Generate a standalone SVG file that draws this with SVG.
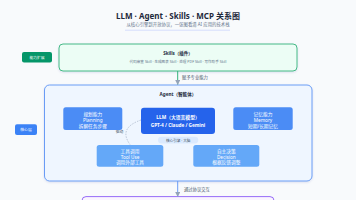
<svg xmlns="http://www.w3.org/2000/svg" width="356" height="200" viewBox="0 0 356 200">
<defs>
<style>
text{font-family:"Noto Sans","Noto Sans CJK SC",sans-serif;}
.c{text-anchor:middle;}
.w{fill:#ffffff;}
.b{font-weight:bold;}
.sub{fill:#64748b;}
.lbl{fill:#475569;font-size:4.3px;}
.node{font-size:4.7px;}
</style>
<marker id="ah" viewBox="0 0 10 10" refX="9" refY="5" markerWidth="5" markerHeight="5" orient="auto" markerUnits="userSpaceOnUse">
<path d="M0,0 L10,5 L0,10 z" fill="#94a3b8"/>
</marker>
<filter id="sh" x="-10%" y="-10%" width="120%" height="130%">
<feDropShadow dx="0" dy="1" stdDeviation="1.2" flood-color="#1e3a8a" flood-opacity="0.12"/>
</filter>
</defs>
<rect width="356" height="200" fill="#f8fafc"/>

<g id="title">
<text class="c b" x="178" y="18.5" font-size="8" fill="#1e293b">LLM · Agent · Skills · MCP 关系图</text>
<text class="c sub" x="178" y="26.3" font-size="4.4">从核心引擎到开放协议，一张图看清 AI 应用的技术栈</text>
<line x1="125" y1="30.2" x2="230" y2="30.2" stroke="#c7d2fe" stroke-width="0.7"/>
</g>

<g id="label-ext">
<rect x="22" y="52" width="30" height="10.5" rx="2" fill="#059669"/>
<text class="c w" x="37" y="58.6" font-size="3.8">能力扩展</text>
</g>

<g id="skills">
<rect x="59" y="44" width="238" height="27" rx="4" fill="#ecfdf5" stroke="#34b27b" stroke-width="0.9" filter="url(#sh)"/>
<text class="c b" x="178" y="54.8" font-size="4.5" fill="#1e293b">Skills（插件）</text>
<text class="c sub" x="178" y="62.6" font-size="3.6">代码审查 Skill · 生成图表 Skill · 处理 PDF Skill · 写作助手 Skill</text>
</g>

<g id="label-core">
<rect x="15" y="124.3" width="22" height="10.8" rx="2" fill="#3b82f6"/>
<text class="c w" x="26" y="131" font-size="3.8">核心层</text>
</g>

<g id="agent">
<rect x="44.5" y="85" width="267.5" height="96" rx="5" fill="#eff6ff" stroke="#5b93f5" stroke-width="0.9" filter="url(#sh)"/>
<text class="c b" x="178" y="96" font-size="4.6" fill="#1e293b">Agent（智能体）</text>
</g>

<g id="planning">
<rect x="63.3" y="107.3" width="59" height="22.7" rx="2.5" fill="#4b8cf5"/>
<text class="c w node" x="92.8" y="115.8">规划能力</text>
<text class="c w node" x="92.8" y="122">Planning</text>
<text class="c w node" x="92.8" y="127.8">拆解任务步骤</text>
</g>

<g id="llm">
<rect x="141" y="107.7" width="74" height="26.3" rx="3" fill="#2563eb"/>
<text class="c w b" x="178" y="118.8" font-size="4.8">LLM（大语言模型）</text>
<text class="c w b" x="178" y="126.7" font-size="4.7">GPT-4 / Claude / Gemini</text>
</g>

<g id="memory">
<rect x="233.3" y="107.3" width="59.4" height="22.7" rx="2.5" fill="#4b8cf5"/>
<text class="c w node" x="263" y="115.8">记忆能力</text>
<text class="c w node" x="263" y="122">Memory</text>
<text class="c w node" x="263" y="127.8">短期/长期记忆</text>
</g>

<g id="core-pill">
<rect x="158" y="136.7" width="40.3" height="6.8" rx="3.4" fill="#dbeafe"/>
<text class="c" x="178.2" y="141.6" font-size="3.6" fill="#475569">核心引擎 · 大脑</text>
</g>

<g id="tooluse">
<rect x="96.7" y="145" width="66.6" height="21.7" rx="2.5" fill="#64a8f8"/>
<text class="c w node" x="130" y="152.6">工具调用</text>
<text class="c w node" x="130" y="158.8">Tool Use</text>
<text class="c w node" x="130" y="164.4">调用外部工具</text>
</g>

<g id="decision">
<rect x="193.3" y="145" width="66" height="21.7" rx="2.5" fill="#64a8f8"/>
<text class="c w node" x="226.3" y="152.6">自主决策</text>
<text class="c w node" x="226.3" y="158.8">Decision</text>
<text class="c w node" x="226.3" y="164.4">根据反馈调整</text>
</g>

<g id="mcp">
<rect x="82" y="196.6" width="192" height="20" rx="4" fill="#faf5ff" stroke="#8b5cf6" stroke-width="0.9"/>
</g>

<g id="connectors">
<line x1="177.7" y1="71" x2="177.7" y2="84.5" stroke="#34b27b" stroke-width="1" marker-end="url(#ah)"/>
<text class="lbl" x="182" y="79.2">赋予专业能力</text>
<path d="M141,120 Q118,128 130,144.5" fill="none" stroke="#94a3b8" stroke-width="0.6" stroke-dasharray="1.5,1.2"/>
<text class="c" x="119.5" y="133.3" font-size="3.8" fill="#475569">驱动</text>
<line x1="177.7" y1="181" x2="177.7" y2="196.5" stroke="#6b9cf5" stroke-width="1" marker-end="url(#ah)"/>
<text class="lbl" x="184" y="190.5">通过协议交互</text>
</g>
</svg>
